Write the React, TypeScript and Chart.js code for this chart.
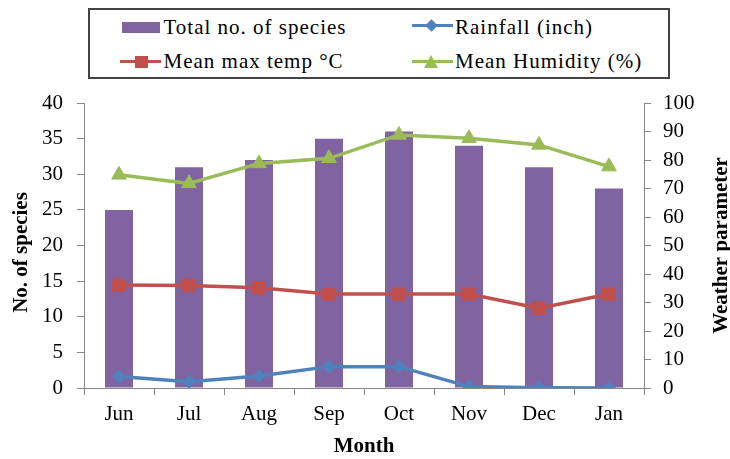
import React, { useEffect, useRef } from "react";
import { Chart, registerables } from "chart.js";

Chart.register(...registerables);

const months = ["Jun", "Jul", "Aug", "Sep", "Oct", "Nov", "Dec", "Jan"];
const totalSpecies = [25, 31, 32, 35, 36, 34, 31, 28];
const rainfall = [4.0, 2.2, 4.2, 7.5, 7.5, 0.5, 0.1, 0.0];
const meanMaxTemp = [36.1, 36.0, 35.2, 33.0, 33.0, 33.0, 28.0, 33.0];
const meanHumidity = [74.8, 71.8, 78.8, 80.6, 88.8, 87.6, 85.3, 77.7];

const leftAxis = { min: 0, max: 40, step: 5, title: "No. of species" };
const rightAxis = { min: 0, max: 100, step: 10, title: "Weather parameter" };
const xTitle = "Month";

const labels = {
  species: "Total no. of species",
  rain: "Rainfall (inch)",
  temp: "Mean max temp \u00B0C",
  hum: "Mean Humidity (%)",
};

const colors = {
  species: "#8064A2",
  rain: "#4F81BD",
  temp: "#C0504D",
  hum: "#9BBB59",
  axis: "#868686",
};

const FONT = '"Liberation Serif", "Times New Roman", serif';

const vTitlePlugin = {
  id: "vTitles",
  afterDraw(chart: any) {
    const { ctx, chartArea } = chart;
    const y = chart.scales.y;
    const y1 = chart.scales.y1;
    ctx.save();
    ctx.font = `bold 21px ${FONT}`;
    ctx.fillStyle = "#000";
    ctx.textAlign = "center";
    ctx.textBaseline = "middle";
    const cy = (chartArea.top + chartArea.bottom) / 2;
    ctx.save();
    ctx.translate(y.left + 22, cy + 7);
    ctx.rotate(-Math.PI / 2);
    ctx.fillText(leftAxis.title, 0, 0);
    ctx.restore();
    ctx.save();
    ctx.translate(y1.right - 8, cy);
    ctx.rotate(-Math.PI / 2);
    ctx.fillText(rightAxis.title, 0, 0);
    ctx.restore();
    ctx.restore();
  },
};

function LineSwatch({ x, y, color, marker }: { x: number; y: number; color: string; marker: string }) {
  let m: React.ReactNode = null;
  if (marker === "diamond") {
    m = (
      <div
        style={{
          position: "absolute",
          left: x + 20 - 4.5,
          top: y - 4.5,
          width: 9,
          height: 9,
          background: color,
          transform: "rotate(45deg)",
        }}
      />
    );
  } else if (marker === "square") {
    m = (
      <div
        style={{
          position: "absolute",
          left: x + 21 - 6.5,
          top: y - 6,
          width: 13,
          height: 12,
          background: color,
        }}
      />
    );
  } else if (marker === "triangle") {
    m = (
      <div
        style={{
          position: "absolute",
          left: x + 20 - 7.5,
          top: y - 7,
          width: 0,
          height: 0,
          borderLeft: "7.5px solid transparent",
          borderRight: "7.5px solid transparent",
          borderBottom: `13px solid ${color}`,
        }}
      />
    );
  }
  return (
    <>
      <div
        style={{
          position: "absolute",
          left: x,
          top: y - 1.75,
          width: 41,
          height: 3.5,
          background: color,
        }}
      />
      {m}
    </>
  );
}

function LegendText({ x, baseline, text }: { x: number; baseline: number; text: string }) {
  return (
    <div
      style={{
        position: "absolute",
        left: x,
        top: baseline - 19,
        fontFamily: FONT,
        fontSize: 21,
        lineHeight: "24px",
        letterSpacing: "1px",
        color: "#000",
        whiteSpace: "nowrap",
      }}
    >
      {text}
    </div>
  );
}

export default function App() {
  const canvasRef = useRef<HTMLCanvasElement | null>(null);

  useEffect(() => {
    document.body.style.margin = "0";
    document.body.style.overflow = "hidden";
    const canvas = canvasRef.current;
    if (!canvas) return;
    Chart.defaults.font.family = FONT;
    Chart.defaults.color = "#000";

    const chart = new Chart(canvas, {
      type: "bar",
      data: {
        labels: months,
        datasets: [
          {
            type: "line",
            label: labels.rain,
            data: rainfall,
            yAxisID: "y1",
            borderColor: colors.rain,
            backgroundColor: colors.rain,
            borderWidth: 3.5,
            pointStyle: "rectRot",
            pointRadius: 6.5,
            pointBorderWidth: 1,
            tension: 0,
            order: 1,
          },
          {
            type: "line",
            label: labels.temp,
            data: meanMaxTemp,
            yAxisID: "y1",
            borderColor: colors.temp,
            backgroundColor: colors.temp,
            borderWidth: 3.5,
            pointStyle: "rect",
            pointRadius: 9,
            pointBorderWidth: 1,
            tension: 0,
            order: 1,
          },
          {
            type: "line",
            label: labels.hum,
            data: meanHumidity,
            yAxisID: "y1",
            borderColor: colors.hum,
            backgroundColor: colors.hum,
            borderWidth: 3.5,
            pointStyle: "triangle",
            pointRadius: 8.5,
            pointBorderWidth: 1,
            tension: 0,
            order: 1,
          },
          {
            type: "bar",
            label: labels.species,
            data: totalSpecies,
            yAxisID: "y",
            backgroundColor: colors.species,
            borderWidth: 0,
            categoryPercentage: 0.4,
            barPercentage: 1.0,
            order: 10,
          },
        ],
      },
      options: {
        animation: false,
        responsive: true,
        maintainAspectRatio: false,
        layout: { padding: { top: 103, left: 0, right: 0, bottom: 0 } },
        plugins: {
          legend: { display: false },
          tooltip: { enabled: false },
        },
        scales: {
          x: {
            offset: true,
            grid: {
              offset: true,
              drawOnChartArea: false,
              drawTicks: true,
              tickLength: 7,
              color: colors.axis,
            },
            border: { color: colors.axis, width: 1 },
            ticks: { font: { size: 21, family: FONT }, color: "#000", padding: 7 },
            title: {
              display: true,
              text: xTitle,
              font: { size: 21, weight: "bold", family: FONT },
              color: "#000",
              padding: { top: 0, bottom: 0 },
            },
            afterFit: (s: any) => {
              s.height = 71;
            },
          },
          y: {
            position: "left",
            min: leftAxis.min,
            max: leftAxis.max,
            grid: {
              drawOnChartArea: false,
              drawTicks: true,
              tickLength: 7,
              color: colors.axis,
            },
            border: { color: colors.axis, width: 1 },
            ticks: {
              stepSize: leftAxis.step,
              font: { size: 21, family: FONT },
              color: "#000",
              padding: 14,
            },
            afterFit: (s: any) => {
              s.width = 84;
            },
          },
          y1: {
            position: "right",
            min: rightAxis.min,
            max: rightAxis.max,
            grid: {
              drawOnChartArea: false,
              drawTicks: true,
              tickLength: 7,
              color: colors.axis,
            },
            border: { color: colors.axis, width: 1 },
            ticks: {
              stepSize: rightAxis.step,
              font: { size: 21, family: FONT },
              color: "#000",
              padding: 12,
            },
            afterFit: (s: any) => {
              s.width = 86;
            },
          },
        },
      },
      plugins: [vTitlePlugin],
    });

    return () => {
      chart.destroy();
    };
  }, []);

  return (
    <div
      style={{
        position: "absolute",
        left: 0,
        top: 0,
        width: 730,
        height: 459,
        background: "#fff",
        overflow: "hidden",
      }}
    >
      <canvas ref={canvasRef} style={{ position: "absolute", left: 0, top: 0 }} />
      <div
        style={{
          position: "absolute",
          left: 88,
          top: 8,
          width: 582,
          height: 71,
          border: "2px solid #444",
          boxSizing: "border-box",
          background: "#fff",
        }}
      />
      <div
        style={{
          position: "absolute",
          left: 122,
          top: 21.5,
          width: 38,
          height: 11,
          background: colors.species,
        }}
      />
      <LegendText x={163.5} baseline={34} text={labels.species} />
      <LineSwatch x={411.5} y={25.5} color={colors.rain} marker="diamond" />
      <LegendText x={455} baseline={34} text={labels.rain} />
      <LineSwatch x={120} y={61.5} color={colors.temp} marker="square" />
      <LegendText x={163.5} baseline={68} text={labels.temp} />
      <LineSwatch x={411.5} y={61.5} color={colors.hum} marker="triangle" />
      <LegendText x={455} baseline={68} text={labels.hum} />
    </div>
  );
}
